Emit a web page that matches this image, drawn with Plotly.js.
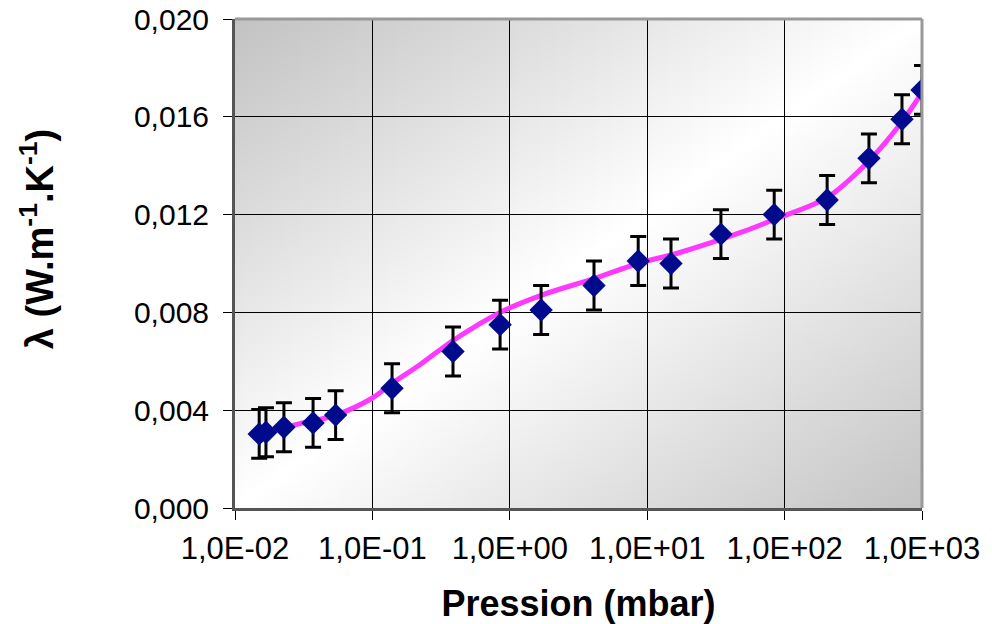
<!DOCTYPE html>
<html>
<head>
<meta charset="utf-8">
<script src="https://cdn.plot.ly/plotly-3.0.1.min.js"></script>
<style>
html,body{margin:0;padding:0;background:#fff;}
#chart{width:992px;height:624px;}
</style>
</head>
<body>
<div id="chart"></div>
<script>
// Measured points (pressure in mbar, conductivity in W/m/K)
const pressure = [0.015, 0.0168, 0.0227, 0.037, 0.054, 0.139, 0.386, 0.85, 1.69, 4.1, 8.6, 14.9, 34.4, 84, 204, 411, 715, 1000];
const lambda = [0.00303, 0.0031, 0.0033, 0.00348, 0.0038, 0.0049, 0.0064, 0.0075, 0.0081, 0.0091, 0.0101, 0.0100, 0.0112, 0.0120, 0.0126, 0.0143, 0.0159, 0.0171];
const lambdaErr = [0.001, 0.001, 0.001, 0.001, 0.001, 0.001, 0.001, 0.001, 0.001, 0.001, 0.001, 0.001, 0.001, 0.001, 0.001, 0.001, 0.001, 0.001];

// Trend curve
const trendP = [0.015, 0.0297, 0.054, 0.1, 0.139, 0.222, 0.386, 0.85, 1.69, 4.1, 8.6, 17.3, 48, 84, 204, 411, 715, 1000];
const trendL = [0.00305, 0.00345, 0.0038, 0.0045, 0.0051, 0.00586, 0.00685, 0.0080, 0.0087, 0.00938, 0.0100, 0.01045, 0.01127, 0.0118, 0.0127, 0.0142, 0.0158, 0.0170];

const xTickVals = [0.01, 0.1, 1, 10, 100, 1000];
const xTickText = ["1,0E-02", "1,0E-01", "1,0E+00", "1,0E+01", "1,0E+02", "1,0E+03"];
const yTickVals = [0, 0.004, 0.008, 0.012, 0.016, 0.020];
const yTickText = ["0,000", "0,004", "0,008", "0,012", "0,016", "0,020"];

const gradSvg = '<svg xmlns="http://www.w3.org/2000/svg" width="100" height="100" preserveAspectRatio="none">' +
  '<defs><linearGradient id="g" x1="0" y1="0" x2="1" y2="1">' +
  '<stop offset="0" stop-color="#c2c2c2"/><stop offset="0.5" stop-color="#ffffff"/><stop offset="1" stop-color="#c4c4c4"/>' +
  '</linearGradient></defs><rect width="100" height="100" fill="url(#g)"/></svg>';
const gradUrl = 'data:image/svg+xml;base64,' + btoa(gradSvg);

const FONT = 'Liberation Sans, Arial, sans-serif';

const traces = [
  {
    x: trendP, y: trendL, type: 'scatter', mode: 'lines',
    line: {color: '#ff38ff', width: 5, shape: 'spline', smoothing: 1},
    hoverinfo: 'skip', showlegend: false
  },
  {
    x: pressure, y: lambda, type: 'scatter', mode: 'markers',
    marker: {symbol: 'diamond', size: 18, color: '#000a8c', line: {width: 0}},
    error_y: {type: 'data', array: lambdaErr, visible: true, color: '#000000', thickness: 3, width: 8},
    showlegend: false
  }
];

const layout = {
  width: 992, height: 624,
  margin: {l: 235, r: 70, t: 19, b: 116},
  paper_bgcolor: '#ffffff',
  plot_bgcolor: 'rgba(0,0,0,0)',
  showlegend: false,
  font: {family: FONT, color: '#000000'},
  images: [{
    source: gradUrl, xref: 'paper', yref: 'paper', x: 0, y: 1, sizex: 1, sizey: 1,
    sizing: 'stretch', xanchor: 'left', yanchor: 'top', layer: 'below'
  }],
  xaxis: {
    type: 'log', range: [-2, 3],
    tickvals: xTickVals, ticktext: xTickText,
    tickfont: {size: 31, family: FONT},
    ticks: 'outside', ticklen: 9, tickwidth: 1, tickcolor: '#000000',
    ticklabelstandoff: 2,
    showgrid: true, gridcolor: '#000000', gridwidth: 1,
    showline: true, linecolor: '#555555', linewidth: 3,
    zeroline: false,
    title: {text: 'Pression (mbar)', font: {size: 36, family: FONT, weight: 'bold'}, standoff: 26}
  },
  yaxis: {
    range: [0, 0.020],
    tickvals: yTickVals, ticktext: yTickText,
    tickfont: {size: 30, family: FONT},
    ticks: 'outside', ticklen: 9, tickwidth: 1, tickcolor: '#000000',
    ticklabelstandoff: 8,
    showgrid: true, gridcolor: '#000000', gridwidth: 1,
    showline: true, linecolor: '#555555', linewidth: 3,
    zeroline: false
  },
  annotations: [{
    text: '<b>λ (W.m<sup>-1</sup>.K<sup>-1</sup>)</b>',
    xref: 'paper', yref: 'paper', x: -0.288, y: 0.55,
    xanchor: 'center', yanchor: 'middle', textangle: -90, showarrow: false,
    font: {size: 38, family: FONT, color: '#000000'}
  }],
  shapes: [
    {type: 'line', xref: 'paper', yref: 'paper', x0: 0, x1: 1, y0: 1, y1: 1, line: {color: '#999999', width: 3}},
    {type: 'line', xref: 'paper', yref: 'paper', x0: 1, x1: 1, y0: 0, y1: 1, line: {color: '#999999', width: 3}}
  ]
};

Plotly.newPlot('chart', traces, layout, {displayModeBar: false, staticPlot: true});
</script>
</body>
</html>
